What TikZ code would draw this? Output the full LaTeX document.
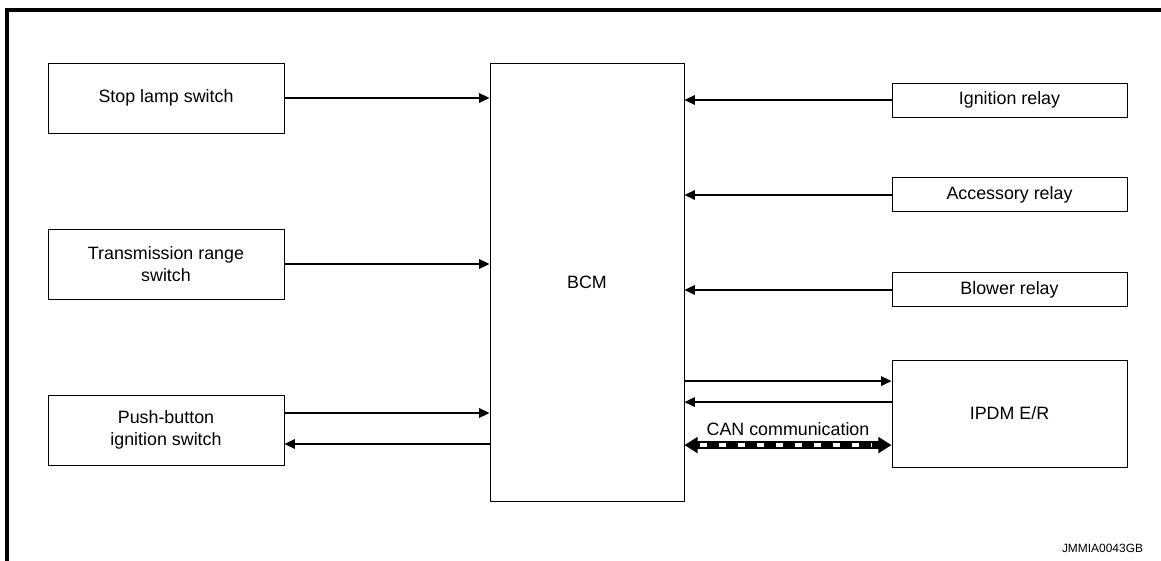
\documentclass[tikz,border=0pt]{standalone}
\usepackage{fontspec}
\setmainfont{Liberation Sans}
\usepackage{xcolor}
\usepackage{tikz}
\usetikzlibrary{arrows.meta, positioning, calc}
\definecolor{trait}{HTML}{000000}
\tikzset{
  boite/.style={rectangle, draw=trait, line width=0.7pt, fill=white,
    font=\fontsize{12.7}{15.5}\selectfont, align=center, inner sep=1mm},
  module/.style={boite, minimum width=59mm, minimum height=17.5mm},
  relais/.style={boite, minimum width=58.75mm, minimum height=8.5mm},
  fleche/.style={-{Triangle[length=2.6mm, width=2.4mm]}, line width=0.9pt, color=trait},
  canfond/.style={{Triangle[length=3.3mm, width=3.9mm]}-{Triangle[length=3.3mm, width=3.9mm]},
    line width=5.7pt, color=trait},
  canmotif/.style={white, line width=2.5pt, dash pattern=on 5pt off 8.5pt,
    shorten <=3.8mm, shorten >=5mm},
  cadre/.style={line width=2.5pt, color=trait},
  etiquette/.style={font=\fontsize{12.7}{15.5}\selectfont, color=trait}
}
\begin{document}
\begin{tikzpicture}
    \useasboundingbox (0,0) rectangle (29.025,14.025);
    \draw[cadre] (0.175,0) |- (29.025,13.775);

    % entrees a gauche
    \node[module] (stop) at (4.15,11.575) {Stop lamp switch};
    \node[module] (trans) at (4.15,7.425) {Transmission range\\switch};
    \node[module] (push) at (4.15,3.275) {Push-button\\ignition switch};

    \node[boite, minimum width=48.5mm, minimum height=109.5mm] (bcm) at (14.675,6.975) {BCM};

    % relais a droite
    \node[relais] (ign) at (25.2375,11.525) {Ignition relay};
    \node[relais, below=15mm of ign] (acc) {Accessory relay};
    \node[relais, below=15mm of acc] (blow) {Blower relay};
    \node[boite, minimum width=58.75mm, minimum height=26.75mm] (ipdm) at (25.2375,3.6875) {IPDM E/R};

    \draw[fleche] (stop.east) -- (stop.east -| bcm.west);
    \draw[fleche] (trans.east) -- (trans.east -| bcm.west);
    \coordinate (pb1) at ([yshift=4.25mm]push.east);
    \coordinate (pb2) at ([yshift=-3.5mm]push.east);
    \draw[fleche] (pb1) -- (pb1 -| bcm.west);
    \draw[fleche] (pb2 -| bcm.west) -- (pb2);

    \draw[fleche] (ign.west) -- (ign.west -| bcm.east);
    \draw[fleche] (acc.west) -- (acc.west -| bcm.east);
    \draw[fleche] (blow.west) -- (blow.west -| bcm.east);

    \coordinate (ip1) at ([yshift=8.1mm]ipdm.west);
    \coordinate (ip2) at ([yshift=2.85mm]ipdm.west);
    \coordinate (ip3) at ([yshift=-7.9mm]ipdm.west);
    \draw[fleche] (ip1 -| bcm.east) -- (ip1);
    \draw[fleche] (ip2) -- (ip2 -| bcm.east);
    % liaison CAN : trait epais avec motif blanc
    \draw[canfond] (ip3 -| bcm.east) -- (ip3);
    \draw[canmotif] (ip3 -| bcm.east) -- node[etiquette, anchor=base, yshift=2.3mm, inner sep=0pt]{CAN communication} (ip3);

    \node[font=\fontsize{8.5}{10}\selectfont, anchor=east] (ref) at (28.7,0.325) {JMMIA0043GB};
\end{tikzpicture}
\end{document}
